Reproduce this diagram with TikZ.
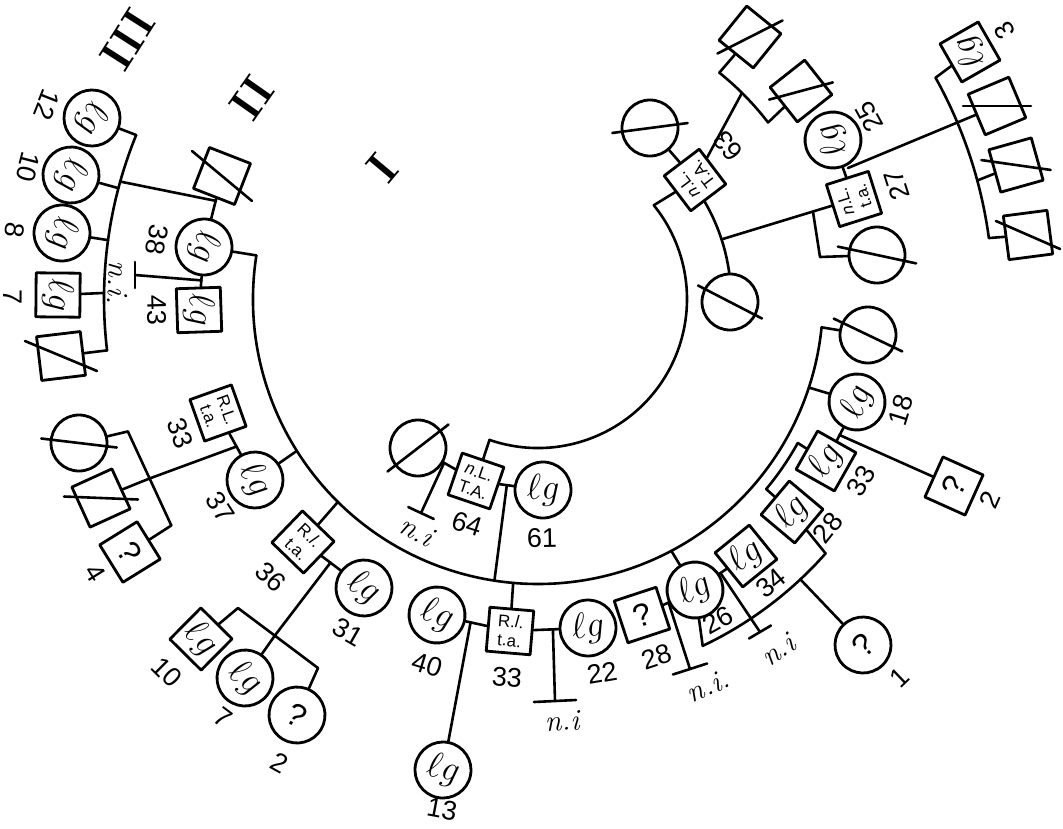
\documentclass[tikz,border=0pt]{standalone}
\usepackage{fix-cm}
\usepackage{fontspec}
\newfontfamily\numfont{Liberation Sans}
\usetikzlibrary{calc}

\tikzset{
  sq/.style={draw, rectangle, minimum size=44pt, inner sep=0pt, line width=2.8pt},
  ci/.style={draw, circle, minimum size=56pt, inner sep=0pt, line width=2.8pt},
  lgfont/.style={font=\fontsize{36}{36}\selectfont},
  qfont/.style={font=\numfont\fontsize{32}{32}\selectfont},
  tagfont/.style={font=\numfont\fontsize{17}{19}\selectfont, align=center},
  num/.style={inner sep=0pt, font=\numfont\fontsize{27}{27}\selectfont},
  nit/.style={inner sep=0pt, font=\itshape\fontsize{30}{30}\selectfont},
  gen/.style={inner sep=0pt, font=\bfseries\fontsize{46}{46}\selectfont},
}
\newcommand{\lgt}{$\ell g$}

\begin{document}
\begin{tikzpicture}[x=1pt, y=-1pt, line width=2.6pt, line cap=round, line join=round]

  %% ==== centre of the rings ====
  \coordinate (O) at (538,299);

  %% ==== generation numerals ====
  \node[gen, rotate=237.5] (gIII) at (128,40) {III};
  \node[gen, rotate=234.9] (gII) at (252,98) {II};
  \node[gen, rotate=230] (gI) at (382,168) {I};

  %% ==== top left sibship ====
  \node[ci, lgfont, rotate=247.9] (c12) at (92,118) {\lgt};
  \node[ci, lgfont, rotate=255.1] (c10) at (71,175) {\lgt};
  \node[ci, lgfont, rotate=262.1] (c8) at (62,233) {\lgt};
  \node[sq, lgfont, rotate=269.5] (b7) at (58,295) {\lgt};
  \node[sq, rotate=276.8] (x7) at (61,356) {};
  \node[num, rotate=248.4] (n12) at (47,105) {12};
  \node[num, rotate=255.5] (n10a) at (28,167) {10};
  \node[num, rotate=262.5] (n8) at (15,230) {8};
  \node[num, rotate=269.8] (n7a) at (13,297) {7};

  \node[sq, rotate=248.7] (xII) at (222,176) {};
  \node[ci, lgfont, rotate=261.2] (c38) at (204,247) {\lgt};
  \node[sq, lgfont, rotate=271.9] (b43) at (199,310) {\lgt};
  \node[num, rotate=261.2] (n38) at (157,240) {38};
  \node[num, rotate=271.7] (n43) at (157,310) {43};
  \node[nit, rotate=267.8] (ni1t) at (118,283) {n.i.};

  %% ==== left ====
  \node[sq, tagfont, rotate=289.6] (b33a) at (218,413) {R.L.\\t.a.};
  \node[ci, lgfont, rotate=302.6] (c37) at (255,480) {\lgt};
  \node[ci] (xc4) at (79,443) {};
  \node[sq, rotate=294.5] (xs4) at (101,498) {};
  \node[sq, qfont, rotate=301.8] (q4) at (130,552) {?};
  \node[num, rotate=290.5] (n33a) at (180,433) {33};
  \node[num, rotate=303.2] (n37) at (220,507) {37};
  \node[num, rotate=301.7] (n4) at (95,573) {4};

  \node[sq, tagfont, rotate=316] (b36) at (303,542) {R.\textit{l}.\\t.a.};
  \node[ci, lgfont, rotate=328.9] (c31) at (364,588) {\lgt};
  \node[sq, lgfont, rotate=315.3] (b10) at (201,639) {\lgt};
  \node[ci, lgfont, rotate=322.3] (c7) at (245,678) {\lgt};
  \node[ci, qfont, rotate=329.9] (q2) at (297,715) {?};
  \node[num, rotate=316.2] (n36) at (271,577) {36};
  \node[num, rotate=330.3] (n31) at (348,632) {31};
  \node[num, rotate=315.2] (n10b) at (167,672) {10};
  \node[num, rotate=323.1] (n7b) at (223,718) {7};
  \node[num, rotate=330.9] (n2a) at (280,763) {2};

  %% ==== bottom ====
  \node[ci] (xc64) at (418,448) {};
  \node[sq, tagfont, rotate=341.2] (b64) at (476,481) {\textit{n}.L.\\T.A.};
  \node[ci, lgfont, rotate=1.5] (c61) at (543,490) {\lgt};
  \node[num, rotate=342.4] (n64) at (467,524) {64};
  \node[num, rotate=1] (n61) at (542,538) {61};
  \node[nit, rotate=332.4] (ni64t) at (417,531) {n.i};

  \node[ci, lgfont, rotate=342.3] (c40) at (437,615) {\lgt};
  \node[sq, tagfont, rotate=355.2] (b33) at (510,631) {R.\textit{l}.\\t.a.};
  \node[ci, lgfont, rotate=348.6] (c13) at (443,770) {\lgt};
  \node[ci, lgfont, rotate=8.6] (c22) at (588,628) {\lgt};
  \node[sq, qfont, rotate=18.2] (q28) at (642,615) {?};
  \node[num, rotate=343.1] (n40) at (427,665) {40};
  \node[num, rotate=355.3] (n33b) at (507,677) {33};
  \node[num, rotate=349.4] (n13) at (442,809) {13};
  \node[num, rotate=9.7] (n22) at (602,673) {22};
  \node[num, rotate=18.4] (n28a) at (657,657) {28};
  \node[nit, rotate=3.3] (ni33t) at (562,721) {n.i};

  \node[ci, lgfont, rotate=28.4] (c26) at (695,590) {\lgt};
  \node[sq, lgfont, rotate=39] (b34) at (746,556) {\lgt};
  \node[sq, lgfont, rotate=50] (b28) at (792,512) {\lgt};
  \node[ci, qfont, rotate=43.2] (q1) at (863,645) {?};
  \node[num, rotate=29.3] (n26) at (718,620) {26};
  \node[num, rotate=39.3] (n34) at (771,583) {34};
  \node[num, rotate=51.7] (n28b) at (828,528) {28};
  \node[num, rotate=43.7] (n1) at (900,678) {1};
  \node[nit, rotate=23.8] (niqt) at (708,686) {n.i.};
  \node[nit, rotate=34.5] (ni34t) at (778,650) {n.i};

  %% ==== right ====
  \node[sq, lgfont, rotate=60.6] (b33r) at (826,461) {\lgt};
  \node[ci, lgfont, rotate=72.1] (c18) at (857,402) {\lgt};
  \node[sq, qfont, rotate=65.8] (q2r) at (954,486) {?};
  \node[ci] (xc18) at (868,335) {};
  \node[num, rotate=60.7] (n33c) at (861,481) {33};
  \node[num, rotate=73] (n18) at (901,410) {18};
  \node[num, rotate=66] (n2b) at (990,500) {2};

  %% ==== top right ====
  \node[ci] (xcI) at (730,302) {};
  \node[sq, tagfont, rotate=127.2] (b63) at (695,180) {\textit{n}.L.\\T.A.};
  \node[ci] (xc63) at (650,128) {};
  \node[sq, rotate=141] (xs1) at (750,37) {};
  \node[sq, rotate=128.3] (xs2) at (801,91) {};
  \node[ci, lgfont, rotate=118.3] (c25) at (833,140) {\lgt};
  \node[sq, tagfont, rotate=107.6] (b27) at (854,199) {\textit{n}.L.\\t.a.};
  \node[ci] (xc27) at (877,255) {};
  \node[sq, lgfont, rotate=119.8] (b3) at (970,52) {\lgt};
  \node[sq, rotate=112.8] (xs3) at (997,106) {};
  \node[sq, rotate=105.7] (xs4r) at (1016,165) {};
  \node[sq, rotate=97.4] (xs5) at (1028,235) {};
  \node[num, rotate=129.4] (n63) at (728,146) {63};
  \node[num, rotate=118.8] (n25) at (869,117) {25};
  \node[num, rotate=107.7] (n27) at (897,185) {27};
  \node[num, rotate=119.9] (n3) at (1005,31) {3};

  %% ==== slashes (deceased) ====
  \draw ($(x7)+(202.6:39)$) -- ($(x7)+(22.6:39)$);
  \draw ($(xII)+(219.8:39)$) -- ($(xII)+(39.8:39)$);
  \draw ($(xc4)+(186.8:38)$) -- ($(xc4)+(6.8:38)$);
  \draw ($(xs4)+(182.3:37)$) -- ($(xs4)+(2.3:37)$);
  \draw ($(xc64)+(142.4:38.5)$) -- ($(xc64)+(-37.6:38.5)$);
  \draw ($(xcI)+(207.3:36)$) -- ($(xcI)+(27.3:36)$);
  \draw ($(xc18)+(205.6:38)$) -- ($(xc18)+(25.6:38)$);
  \draw ($(xc63)+(172.5:38)$) -- ($(xc63)+(-7.5:38)$);
  \draw ($(xs1)+(153.1:36.5)$) -- ($(xs1)+(-26.9:36.5)$);
  \draw ($(xs2)+(164.9:33)$) -- ($(xs2)+(-15.1:33)$);
  \draw ($(xc27)+(192.1:40)$) -- ($(xc27)+(12.1:40)$);
  \draw ($(xs3)+(180:34)$) -- ($(xs3)+(0:34)$);
  \draw ($(xs4r)+(188.1:35)$) -- ($(xs4r)+(8.1:35)$);
  \draw ($(xs5)+(203.6:35)$) -- ($(xs5)+(23.6:35)$);

  %% ==== points on the rings ====
  \coordinate (o1) at ($(O)+(188.8:285)$);
  \coordinate (o2) at ($(O)+(5.7:285)$);
  \coordinate (o37) at ($(O)+(147.8:285)$);
  \coordinate (o36) at ($(O)+(134.6:285)$);
  \coordinate (o64) at ($(O)+(98.8:285)$);
  \coordinate (o33) at ($(O)+(95:285)$);
  \coordinate (o26) at ($(O)+(62.1:285)$);
  \coordinate (o18) at ($(O)+(18.1:285)$);
  \coordinate (i1) at ($(O)+(109:149)$);
  \coordinate (i2) at ($(O)+(-39:149)$);
  \coordinate (a2s) at ($(O)+(-30:193)$);
  \coordinate (a2m) at ($(O)+(-18:193)$);
  \coordinate (a2e) at ($(O)+(-8:193)$);
  \coordinate (t1a) at ($(O)+(202.2:434)$);
  \coordinate (t1f) at ($(O)+(195.7:434)$);
  \coordinate (t1b) at ($(O)+(194.8:434)$);
  \coordinate (t1c) at ($(O)+(187.8:434)$);
  \coordinate (t1d) at ($(O)+(180.8:434)$);
  \coordinate (t1e) at ($(O)+(173.2:434)$);
  \coordinate (rA) at ($(O)+(-29.1:455)$);
  \coordinate (rJ) at ($(O)+(-15.1:455)$);
  \coordinate (rB) at ($(O)+(-7.7:455)$);
  \coordinate (pA) at ($(O)+(-51.3:290)$);
  \coordinate (pM) at ($(O)+(-45.3:290)$);
  \coordinate (pB) at ($(O)+(-37.5:290)$);
  \coordinate (bA) at ($(O)+(29:297)$);
  \coordinate (bB) at ($(O)+(39.8:297)$);
  \coordinate (sA) at ($(O)+(41.5:384)$);
  \coordinate (sJ) at ($(O)+(46.9:384)$);
  \coordinate (sB) at ($(O)+(64.6:384)$);
  \coordinate (L4a) at ($(O)+(162.1:431)$);
  \coordinate (L4b) at ($(O)+(148.3:431)$);
  \coordinate (L4m) at ($(L4a)!0.5!(L4b)$);
  \coordinate (L10a) at (238,608);
  \coordinate (L10b) at (318,668);
  \coordinate (L10j) at ($(L10a)!0.46!(L10b)$);

  %% ==== junctions on short lines ====
  \coordinate (kII) at ($(xII)!0.35!(c38)$);
  \coordinate (jni1) at ($(c38)!0.53!(b43)$);
  \coordinate (ni1) at (135,275);
  \coordinate (k33a) at ($(b33a)!0.5!(c37)$);
  \coordinate (k36) at ($(b36)!0.45!(c31)$);
  \coordinate (jt64) at ($(b64)!0.46!(c61)$);
  \coordinate (kn64) at ($(xc64)!0.45!(b64)$);
  \coordinate (ni64) at (421,513);
  \coordinate (k40) at ($(c40)!0.46!(b33)$);
  \coordinate (kn33) at ($(b33)!0.55!(c22)$);
  \coordinate (ni33) at (555,701);
  \coordinate (knq) at ($(q28)!0.5!(c26)$);
  \coordinate (niq) at (690,669);
  \coordinate (kn34) at ($(c26)!0.5!(b34)$);
  \coordinate (ni34) at (760,632);
  \coordinate (k18) at ($(c18)!0.56!(b33r)$);
  \coordinate (k27) at ($(a2m)!0.69!(b27)$);
  \coordinate (k27b) at (820,257);
  \coordinate (k25) at (848,168);

  %% ==== rings ====
  \draw (o1) arc[start angle=188.8, end angle=5.7, radius=285];
  \draw (i1) arc[start angle=109, end angle=-39, radius=149];
  \draw (a2s) arc[start angle=-30, end angle=-8, radius=193];
  \draw (t1a) arc[start angle=202.2, end angle=173.2, radius=434];
  \draw (rA) arc[start angle=-29.1, end angle=-7.7, radius=455];
  \draw (pA) arc[start angle=-51.3, end angle=-37.5, radius=290];
  \draw (bA) arc[start angle=29, end angle=39.8, radius=297];
  \draw (sA) arc[start angle=41.5, end angle=64.6, radius=384];
  \draw (L4a) -- (L4b);
  \draw (L10a) -- (L10b);

  %% ==== connectors ====
  \draw (c12) -- (t1a);
  \draw (c10) -- (t1b);
  \draw (c8) -- (t1c);
  \draw (b7) -- (t1d);
  \draw (x7) -- (t1e);
  \draw (xII) -- (c38);
  \draw (t1f) -- (kII);
  \draw (c38) -- (b43);
  \draw (jni1) -- (ni1);
  \draw ($(ni1)+(0,-13)$) -- ($(ni1)+(0,13)$);
  \draw (c38) -- (o1);

  \draw (b33a) -- (c37);
  \draw (c37) -- (o37);
  \draw (k33a) -- (L4m);
  \draw (xc4) -- (L4a);
  \draw (xs4) -- (L4m);
  \draw (q4) -- (L4b);

  \draw (b36) -- (o36);
  \draw (b36) -- (c31);
  \draw (k36) -- (L10j);
  \draw (b10) -- (L10a);
  \draw (c7) -- (L10j);
  \draw (q2) -- (L10b);

  \draw (b64) -- (i1);
  \draw (xc64) -- (b64);
  \draw (kn64) -- (ni64);
  \draw ($(ni64)+(-12.7,-5.9)$) -- ($(ni64)+(12.7,5.9)$);
  \draw (b64) -- (c61);
  \draw (jt64) -- (o64);

  \draw (b33) -- (o33);
  \draw (c40) -- (b33);
  \draw (k40) -- (c13);
  \draw (b33) -- (c22);
  \draw (kn33) -- (ni33);
  \draw ($(ni33)+(-21,1)$) -- ($(ni33)+(21,-1)$);

  \draw (q28) -- (c26);
  \draw (knq) -- (niq);
  \draw ($(niq)+(-17.1,5.5)$) -- ($(niq)+(17.1,-5.5)$);
  \draw (c26) -- (o26);
  \draw (c26) -- (b34);
  \draw (kn34) -- (ni34);
  \draw ($(ni34)+(-11,6.5)$) -- ($(ni34)+(11,-6.5)$);
  \draw (sA) -- (b28);
  \draw (sB) -- (c26);
  \draw (sJ) -- (q1);

  \draw (bA) -- (b33r);
  \draw (bB) -- (b28);
  \draw (c18) -- (b33r);
  \draw (k18) -- (q2r);
  \draw (c18) -- (o18);
  \draw (o2) -- (xc18);

  \draw (b63) -- (i2);
  \draw (b63) -- (a2s);
  \draw (a2e) -- (xcI);
  \draw (xc63) -- (b63);
  \draw (pM) -- (b63);
  \draw (pA) -- (xs1);
  \draw (pB) -- (xs2);
  \draw (a2m) -- (b27);
  \draw (k27) -- (k27b) -- (xc27);
  \draw (c25) -- (b27);
  \draw (k25) -- (xs3);
  \draw (rA) -- (b3);
  \draw (rJ) -- (xs4r);
  \draw (rB) -- (xs5);

  %% fix the canvas to the reference size
  \pgfresetboundingbox
  \path[use as bounding box] (0,0) rectangle (1063,828);
\end{tikzpicture}
\end{document}
